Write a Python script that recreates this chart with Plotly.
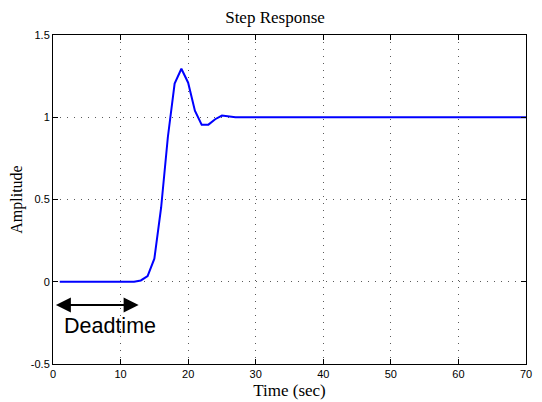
import plotly.graph_objects as go

# Step response vertices (time in sec, amplitude)
time_s = [1, 12, 13, 14, 15, 16, 17, 18, 19, 20, 21, 22, 23, 24, 25, 26, 27, 70]
amplitude = [0.0, 0.0, 0.008, 0.034, 0.14, 0.45, 0.88, 1.205, 1.295, 1.21, 1.04,
             0.955, 0.955, 0.988, 1.01, 1.003, 1.0, 1.0]

x_ticks = [0, 10, 20, 30, 40, 50, 60, 70]
y_ticks = [-0.5, 0, 0.5, 1, 1.5]
y_tick_text = ["-0.5", "0", "0.5", "1", "1.5"]

deadtime_start = 0.2
deadtime_end = 12.67
deadtime_y = -0.142
deadtime_label = "Deadtime"
deadtime_label_x = 8.5
deadtime_label_y = -0.272

fig = go.Figure()
fig.add_trace(go.Scatter(x=time_s, y=amplitude, mode="lines",
                         line=dict(color="rgb(0,0,255)", width=2),
                         showlegend=False, hoverinfo="skip"))

axis_common = dict(
    showline=True, linecolor="black", linewidth=1, mirror="allticks",
    ticks="inside", ticklen=5, tickcolor="black", tickwidth=1,
    showgrid=True, gridcolor="rgb(90,90,90)", griddash="1px,6px", gridwidth=1,
    zeroline=False, automargin=False,
    tickfont=dict(family="Liberation Sans, Arial", size=11, color="black"),
)

fig.update_xaxes(range=[0, 70], tickvals=x_ticks,
                 title=dict(text="Time (sec)",
                            font=dict(family="Liberation Serif, Times New Roman", size=17, color="black"),
                            standoff=4),
                 **axis_common)
fig.update_yaxes(range=[-0.5, 1.5], tickvals=y_ticks, ticktext=y_tick_text,
                 title=dict(text="Amplitude",
                            font=dict(family="Liberation Serif, Times New Roman", size=16, color="black"),
                            standoff=6),
                 **axis_common)

fig.add_annotation(x=deadtime_end, y=deadtime_y, ax=deadtime_start, ay=deadtime_y,
                   xref="x", yref="y", axref="x", ayref="y",
                   text="", showarrow=True, arrowside="end+start",
                   arrowhead=2, startarrowhead=2, arrowsize=1.5, startarrowsize=1.5,
                   arrowwidth=2, arrowcolor="black", standoff=0, startstandoff=0)
fig.add_annotation(x=deadtime_label_x, y=deadtime_label_y, xref="x", yref="y",
                   text=deadtime_label, showarrow=False,
                   font=dict(family="Liberation Sans, Arial", size=21.5, color="black"))

# The page body adds an 8px offset; the figure is sized to fit the window.
fig.update_layout(
    width=534, height=394,
    margin=dict(l=45, r=16, t=27, b=38, autoexpand=False),
    paper_bgcolor="white", plot_bgcolor="white",
    title=dict(text="Step Response", x=0.5, xanchor="center", y=0.977, yanchor="middle",
               font=dict(family="Liberation Serif, Times New Roman", size=17, color="black")),
)

fig.write_html("out.html")
